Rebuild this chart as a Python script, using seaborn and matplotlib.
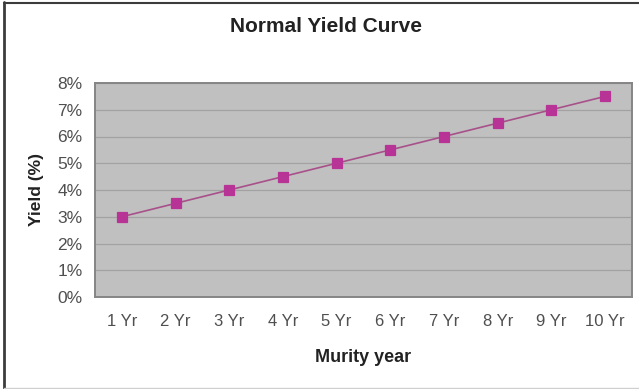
import matplotlib
matplotlib.use("Agg")
import matplotlib.pyplot as plt
from matplotlib.lines import Line2D
from matplotlib.ticker import PercentFormatter, MultipleLocator
import seaborn as sns
import pandas as pd

maturities = ["1 Yr", "2 Yr", "3 Yr", "4 Yr", "5 Yr", "6 Yr", "7 Yr", "8 Yr", "9 Yr", "10 Yr"]
yields = [3.0, 3.5, 4.0, 4.5, 5.0, 5.5, 6.0, 6.5, 7.0, 7.5]

df = pd.DataFrame({"maturity": maturities, "yield": yields})

sns.set_theme(style="white")
plt.rcParams["font.family"] = ["Liberation Sans", "DejaVu Sans"]

W, H = 639, 389
fig = plt.figure(figsize=(W / 100, H / 100), dpi=100)
fig.patch.set_facecolor("white")
ax = fig.add_axes([95 / W, 92 / H, 537 / W, 214 / H])
ax.set_facecolor("#c0c0c0")

sns.pointplot(data=df, x="maturity", y="yield", order=maturities,
              color="#b0388f", markers="s", linestyles="-",
              markersize=6.5, linewidth=1.2, ax=ax, zorder=3)
for line in ax.lines:
    line.set_color("#a8508a")
    line.set_markerfacecolor("#b83396")
    line.set_markeredgecolor("#b83396")

ax.set_xlim(-0.5, len(maturities) - 0.5)
ax.set_ylim(0, 8)
ax.yaxis.set_major_locator(MultipleLocator(1))
ax.yaxis.set_major_formatter(PercentFormatter(decimals=0))
ax.grid(axis="y", color="#a2a2a2", linewidth=0.9)
ax.set_axisbelow(True)
for s in ax.spines.values():
    s.set_color("#858585")
    s.set_linewidth(1.4)

ax.tick_params(axis="both", length=0, labelcolor="#4f4f4f")
ax.tick_params(axis="x", pad=12, labelsize=12)
ax.tick_params(axis="y", pad=9, labelsize=12.5)

ax.set_xlabel("Murity year", fontsize=13, fontweight="bold", color="#222222")
ax.set_ylabel("Yield (%)", fontsize=12.5, fontweight="bold", color="#222222")
ax.xaxis.set_label_coords(0.5, (H - 358 - 92) / 214)
ax.xaxis.label.set_va("center")
ax.yaxis.set_label_coords((37 - 95) / 537, 0.5)
ax.yaxis.label.set_va("center")
ax.yaxis.label.set_ha("center")

fig.text(0.51, 1 - 27 / H, "Normal Yield Curve", ha="center", va="center",
         fontsize=15, fontweight="bold", color="#222222")

# frame around the chart
fig.add_artist(Line2D([3.5 / W, 3.5 / W], [1 / H, 1 - 2 / H], transform=fig.transFigure,
                      color="#3c3c3c", linewidth=2))
fig.add_artist(Line2D([3.5 / W, 1], [1 - 2.5 / H, 1 - 2.5 / H], transform=fig.transFigure,
                      color="#3c3c3c", linewidth=1.5))
fig.add_artist(Line2D([3.5 / W, 1], [0.8 / H, 0.8 / H], transform=fig.transFigure,
                      color="#d0d0d0", linewidth=1))

fig.savefig("out.png", dpi=100)
